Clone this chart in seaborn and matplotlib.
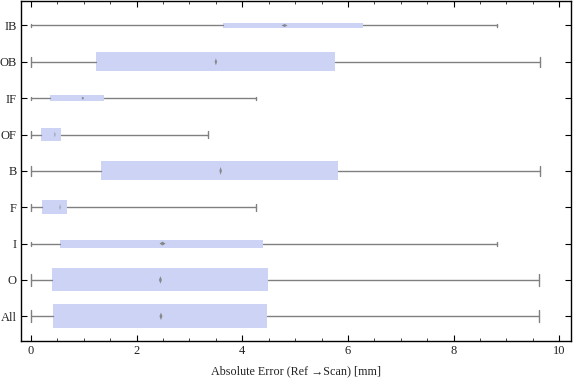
import numpy as np
import pandas as pd
import matplotlib.pyplot as plt
import seaborn as sns

# Summary statistics of the absolute error per region [mm]
groups = ["IB", "OB", "IF", "OF", "B", "F", "I", "O", "All"]
err_min = [0, 0, 0, 0, 0, 0, 0, 0, 0]
err_q1 = [3.64, 1.23, 0.35, 0.19, 1.33, 0.21, 0.555, 0.40, 0.42]
err_med = [4.80, 3.50, 0.98, 0.45, 3.59, 0.55, 2.49, 2.45, 2.46]
err_q3 = [6.28, 5.76, 1.38, 0.57, 5.81, 0.68, 4.39, 4.49, 4.47]
err_max = [8.82, 9.63, 4.25, 3.35, 9.63, 4.25, 8.82, 9.62, 9.62]

# styles: box thickness in category units, median diamond size in px (w, h)
box_w = [0.14, 0.52, 0.16, 0.36, 0.52, 0.40, 0.22, 0.63, 0.66]
med_w = [6, 2.5, 2.5, 2, 2.5, 2, 6, 3, 3]
med_h = [3, 7, 3, 6, 8, 6, 4, 7.5, 7.5]
med_alpha = [0.9, 0.9, 0.9, 0.45, 0.9, 0.45, 0.9, 0.9, 0.9]

box_color = "#ccd3f5"
line_color = "#808080"


def main():
    sns.set_style("ticks")
    plt.rcParams['font.family'] = ['Liberation Serif', 'DejaVu Serif']
    plt.rcParams['font.size'] = 9

    pos = np.arange(len(groups))
    stats = []
    for i, g in enumerate(groups):
        stats.append(dict(label=g, whislo=err_min[i], q1=err_q1[i], med=err_med[i],
                          q3=err_q3[i], whishi=err_max[i], fliers=[]))

    fig = plt.figure(figsize=(5.76, 3.81), dpi=100)
    ax = fig.add_axes([0.036, 0.105, 0.955, 0.893])

    ax.bxp(stats, positions=pos, widths=box_w, capwidths=[w * 0.5 for w in box_w],
           orientation='horizontal', patch_artist=True, showfliers=False,
           boxprops=dict(facecolor=box_color, edgecolor='none', linewidth=0),
           whiskerprops=dict(color=line_color, linewidth=1),
           capprops=dict(color=line_color, linewidth=1),
           medianprops=dict(linewidth=0, alpha=0))

    # Median markers (diamonds, one per row since the shape differs)
    df = pd.DataFrame({"median": err_med, "pos": pos})
    for i in range(len(groups)):
        a, b = med_w[i] / 2, med_h[i] / 2
        verts = [(-a, 0), (0, b), (a, 0), (0, -b), (-a, 0)]
        side = max(med_w[i], med_h[i]) / 1.389  # px -> pt
        sns.scatterplot(data=df.iloc[[i]], x="median", y="pos", marker=verts,
                        s=side ** 2, color=line_color, edgecolor='none',
                        alpha=med_alpha[i], legend=False, ax=ax, zorder=5)

    ax.set_xlim(-0.195, 10.22)
    ax.set_ylim(len(groups) - 1 + 0.68, -0.68)
    ax.set_yticks(pos)
    ax.set_yticklabels(groups)
    ax.set_xticks([0, 2, 4, 6, 8, 10])
    ax.set_xticks(np.arange(0, 10.01, 0.5), minor=True)
    ax.tick_params(axis='both', which='major', direction='in', length=4, width=0.8,
                   top=True, right=True, colors='black', labelcolor='#222222', labelsize=9,
                   pad=3)
    ax.tick_params(axis='x', which='minor', direction='in', length=2.5, width=0.6,
                   top=True, bottom=True)
    ax.tick_params(axis='y', which='minor', left=False, right=False)
    for s in ax.spines.values():
        s.set_linewidth(1)
        s.set_color('black')

    ax.set_xlabel("Absolute Error (Ref \u2192Scan) [mm]", fontsize=8.7, color='#222222', labelpad=6)
    ax.set_ylabel("")

    fig.savefig("out.png", dpi=100)
    plt.close(fig)


if __name__ == '__main__':
    main()
